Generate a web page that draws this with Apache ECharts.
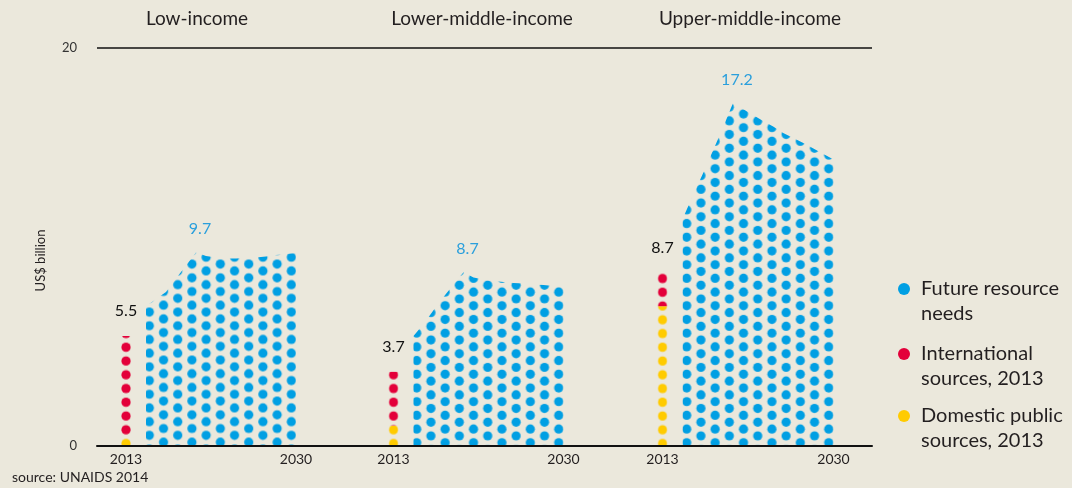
<!DOCTYPE html>
<html>
<head>
<meta charset="utf-8">
<script src="https://cdn.jsdelivr.net/npm/echarts@6/dist/echarts.min.js"></script>
<style>
  html, body { margin: 0; padding: 0; background: #ebe8dc; }
  #chart { width: 1072px; height: 488px; }
</style>
</head>
<body>
<div id="chart"></div>
<script>
// --- data (US$ billion) ---
const panelNames = ['Low-income', 'Lower-middle-income', 'Upper-middle-income'];
const years = [2013, 2014, 2015, 2016, 2017, 2018, 2019, 2020, 2021,
  2022, 2023, 2024, 2025, 2026, 2027, 2028, 2029, 2030];
const domestic2013 = [0.4, 1.0, 7.0];
const international2013 = [5.1, 2.7, 1.7];
const futureLow = [null, null, 7.0, 7.36, 7.71, 8.39, 9.05, 9.7, 9.52,
  9.45, 9.4, 9.4, 9.42, 9.45, 9.5, 9.57, 9.62, 9.67];
const futureLowerMiddle = [null, null, 5.5, 6.1, 6.8, 7.46, 8.09, 8.7, 8.44,
  8.34, 8.27, 8.22, 8.17, 8.14, 8.09, 8.07, 8.02, 7.96];
const futureUpperMiddle = [null, null, 11.38, 12.54, 13.64, 14.8, 15.95, 17.2, 16.91,
  16.61, 16.31, 16.03, 15.7, 15.45, 15.2, 14.92, 14.65, 14.37];
const futureNeeds = [futureLow, futureLowerMiddle, futureUpperMiddle];

const BLUE = '#009fe3';
const RED = '#e3003a';
const YELLOW = '#ffcb00';
const INK = '#231f20';
const FONT = 'Lato';

// panel layout (px)
const gridLeft = [126, 393.5, 662.5];
const gridWidth = [170, 170, 171];
const titleCenter = [197, 482, 750];
const GRID_TOP = 47.5, GRID_BOTTOM = 42.5;
// phase of the dot raster per panel
const dotPhase = [{ x: 149.3, y: 435.3 }, { x: 416.7, y: 442.7 }, { x: 686.7, y: 442.7 }];

function makeTile(color, cols, rows, dx, dy, radius, stagger) {
  const c = document.createElement('canvas');
  c.width = Math.round(cols * dx);
  c.height = Math.round(rows * dy);
  const ctx = c.getContext('2d');
  ctx.fillStyle = color;
  for (let i = 0; i < cols; i++) {
    const x = dx / 2 + i * dx;
    const shift = stagger && i % 2 ? 0 : dy / 2;
    for (let j = -1; j <= rows; j++) {
      ctx.beginPath();
      ctx.arc(x, shift + j * dy, radius, 0, Math.PI * 2);
      ctx.fill();
    }
  }
  return c;
}

const CS = 14.2, RS = 13.7, R = 4.6;
const areaTile = makeTile(BLUE, 10, 10, CS, RS, R, true);
const redTile = makeTile(RED, 1, 4, 20, 13.75, R, false);
const yellowTile = makeTile(YELLOW, 1, 4, 20, 13.75, R, false);

function areaPattern(p) {
  return { image: areaTile, repeat: 'repeat', x: dotPhase[p].x - CS / 2, y: dotPhase[p].y - RS / 2 };
}
function barPattern(tile, p) {
  return { image: tile, repeat: 'repeat', x: gridLeft[p] - 10, y: 436.625 };
}

const chart = echarts.init(document.getElementById('chart'));

const grid = [{ left: 97, right: 200, top: GRID_TOP, bottom: GRID_BOTTOM }];
const xAxis = [{
  type: 'value', min: 0, max: 1, gridIndex: 0, z: 5,
  axisLine: { lineStyle: { color: '#111', width: 2 } },
  axisTick: { show: false }, axisLabel: { show: false }, splitLine: { show: false }
}];
const yAxis = [{
  type: 'value', min: 0, max: 20, interval: 20, gridIndex: 0,
  name: 'US$ billion', nameLocation: 'middle', nameGap: 50, nameRotate: 90,
  nameTextStyle: { fontFamily: FONT, fontSize: 13, color: INK, padding: [0, 28, 0, 0] },
  axisLine: { show: false }, axisTick: { show: false },
  axisLabel: { fontFamily: FONT, fontSize: 13, color: '#333', margin: 20 },
  splitLine: { lineStyle: { color: '#111', width: 1.5 } }
}];
const series = [];
const titles = [];

panelNames.forEach((name, p) => {
  const gi = p + 1;
  grid.push({ left: gridLeft[p], width: gridWidth[p], top: GRID_TOP, bottom: GRID_BOTTOM });
  xAxis.push({
    type: 'category', gridIndex: gi, data: years, boundaryGap: false,
    axisLine: { show: false }, axisTick: { show: false },
    axisLabel: {
      interval: (i) => i === 0 || i === years.length - 1,
      fontFamily: FONT, fontSize: 14, color: INK, margin: 7
    }
  });
  yAxis.push({ type: 'value', gridIndex: gi, min: 0, max: 20, show: false });

  const only2013 = (v) => years.map((y, i) => (i === 0 ? v : null));
  series.push({
    name: 'Domestic public sources, 2013', type: 'bar', stack: 's' + p,
    xAxisIndex: gi, yAxisIndex: gi, barWidth: 10, clip: false,
    itemStyle: { color: barPattern(yellowTile, p) },
    data: only2013(domestic2013[p])
  });
  series.push({
    name: 'International sources, 2013', type: 'bar', stack: 's' + p,
    xAxisIndex: gi, yAxisIndex: gi, barWidth: 10, clip: false,
    itemStyle: { color: barPattern(redTile, p) },
    label: {
      show: true, position: 'top', distance: 17,
      fontFamily: FONT, fontSize: 16, color: '#111',
      formatter: () => (domestic2013[p] + international2013[p]).toFixed(1)
    },
    data: only2013(international2013[p])
  });
  series.push({
    name: 'Future resource needs', type: 'line',
    xAxisIndex: gi, yAxisIndex: gi, showSymbol: false,
    itemStyle: { color: BLUE },
    lineStyle: { width: 0, opacity: 0 },
    areaStyle: { color: areaPattern(p), opacity: 1 },
    markPoint: {
      symbol: 'circle', symbolSize: 1, itemStyle: { color: 'rgba(0,0,0,0)' },
      label: {
        show: true, position: 'top', distance: 15, offset: [4, 0],
        fontFamily: FONT, fontSize: 16, color: '#2a9fdc', formatter: '{c}'
      },
      data: [{ type: 'max' }]
    },
    data: futureNeeds[p]
  });

  titles.push({
    text: name, left: titleCenter[p], top: 9, textAlign: 'center', padding: 0,
    textStyle: { fontFamily: FONT, fontSize: 19, fontWeight: 'normal', color: INK }
  });
});

titles.push({
  text: 'source: UNAIDS 2014', left: 12, top: 470, padding: 0,
  textStyle: { fontFamily: FONT, fontSize: 14, fontWeight: 'normal', color: INK }
});

// leading empty line keeps the dot level with the first text line
const legendItems = [
  { name: 'Future resource needs', label: '\nFuture resource\nneeds', color: BLUE },
  { name: 'International sources, 2013', label: '\nInternational\nsources, 2013', color: RED },
  { name: 'Domestic public sources, 2013', label: '\nDomestic public\nsources, 2013', color: YELLOW }
];
const legendIconY = [289, 354, 416];
const legend = legendItems.map((it, i) => ({
  left: 898, top: legendIconY[i] - 37.5, orient: 'vertical', padding: 0,
  selectedMode: false, icon: 'circle', itemWidth: 12, itemHeight: 12,
  data: [{ name: it.name, itemStyle: { color: it.color } }],
  formatter: it.label,
  textStyle: { fontFamily: FONT, fontSize: 20, lineHeight: 25, color: INK, padding: [0, 0, 0, 6] }
}));

chart.setOption({
  backgroundColor: '#ebe8dc',
  animation: false,
  title: titles,
  legend: legend,
  grid: grid,
  xAxis: xAxis,
  yAxis: yAxis,
  series: series
});
</script>
</body>
</html>
